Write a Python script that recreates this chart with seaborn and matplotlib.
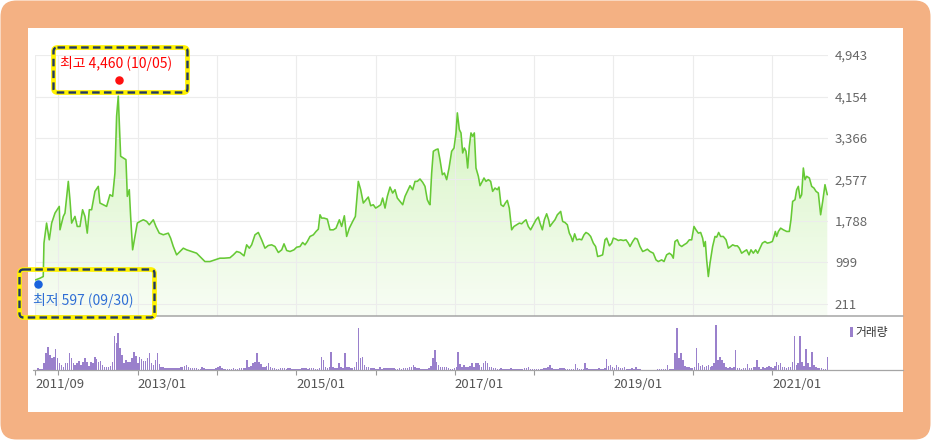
import numpy as np
import pandas as pd
import matplotlib
matplotlib.use('Agg')
import matplotlib.pyplot as plt
import matplotlib.dates as mdates
from matplotlib.patches import FancyBboxPatch, Rectangle, PathPatch
from matplotlib.lines import Line2D
from matplotlib.colors import LinearSegmentedColormap
from matplotlib.transforms import Affine2D
import seaborn as sns

# closing price, time given as decimal year
price_years = [
    2011.710, 2011.766, 2011.808, 2011.817, 2011.850, 2011.884, 2011.914, 2011.956, 2012.010, 2012.019,
    2012.061, 2012.082, 2012.124, 2012.145, 2012.166, 2012.208, 2012.237, 2012.271, 2012.304, 2012.334,
    2012.363, 2012.389, 2012.418, 2012.460, 2012.502, 2012.523, 2012.565, 2012.607, 2012.649, 2012.683,
    2012.712, 2012.733, 2012.754, 2012.784, 2012.817, 2012.851, 2012.868, 2012.893, 2012.910, 2012.935,
    2012.964, 2012.994, 2013.028, 2013.070, 2013.112, 2013.145, 2013.196, 2013.229, 2013.271, 2013.322,
    2013.385, 2013.414, 2013.448, 2013.490, 2013.532, 2013.574, 2013.616, 2013.679, 2013.742, 2013.784,
    2013.847, 2013.910, 2013.973, 2014.036, 2014.087,
    2014.163, 2014.205, 2014.247, 2014.289, 2014.340, 2014.373, 2014.407, 2014.436, 2014.478, 2014.520,
    2014.562, 2014.604, 2014.646, 2014.688, 2014.730, 2014.773, 2014.815, 2014.844, 2014.878, 2014.920,
    2014.970, 2015.004, 2015.046, 2015.079, 2015.109, 2015.138, 2015.172, 2015.214, 2015.248, 2015.277,
    2015.298, 2015.319, 2015.348, 2015.390, 2015.424, 2015.466, 2015.500, 2015.542, 2015.571, 2015.605,
    2015.634, 2015.668, 2015.710, 2015.744, 2015.781, 2015.811, 2015.844, 2015.878, 2015.907, 2015.937,
    2015.970, 2016.000, 2016.034, 2016.063, 2016.088, 2016.118, 2016.147, 2016.181, 2016.214, 2016.244,
    2016.273, 2016.307, 2016.341, 2016.370, 2016.399, 2016.433, 2016.467, 2016.496, 2016.525, 2016.559,
    2016.593, 2016.622, 2016.651, 2016.677,
    2016.685, 2016.706, 2016.727, 2016.761, 2016.786, 2016.811, 2016.841, 2016.866, 2016.895, 2016.925,
    2016.958, 2016.988, 2017.013, 2017.030, 2017.055, 2017.076, 2017.097, 2017.118, 2017.139, 2017.160,
    2017.181, 2017.202, 2017.223, 2017.244, 2017.265, 2017.295, 2017.316, 2017.345, 2017.366, 2017.391,
    2017.421, 2017.450, 2017.475, 2017.505, 2017.534, 2017.555, 2017.580, 2017.610, 2017.635, 2017.660,
    2017.685, 2017.715, 2017.744, 2017.778, 2017.812, 2017.841, 2017.870, 2017.896, 2017.925, 2017.954,
    2017.988, 2018.022, 2018.051, 2018.072, 2018.102, 2018.127, 2018.156, 2018.181, 2018.198, 2018.228,
    2018.261, 2018.291, 2018.333, 2018.358, 2018.387, 2018.417, 2018.442, 2018.463, 2018.484, 2018.509,
    2018.535, 2018.568, 2018.598, 2018.627, 2018.652, 2018.682, 2018.711, 2018.745, 2018.774, 2018.799,
    2018.829, 2018.862, 2018.892, 2018.913, 2018.947, 2018.976, 2018.997, 2019.031, 2019.060, 2019.089,
    2019.123, 2019.157, 2019.186,
    2019.207, 2019.241, 2019.270, 2019.299, 2019.333, 2019.367, 2019.396, 2019.426, 2019.459, 2019.501,
    2019.535, 2019.564, 2019.606, 2019.636, 2019.669, 2019.703, 2019.732, 2019.753, 2019.774, 2019.804,
    2019.829, 2019.859, 2019.888, 2019.922, 2019.955, 2019.985, 2020.014, 2020.039, 2020.069, 2020.098,
    2020.123, 2020.140, 2020.157, 2020.174, 2020.195, 2020.216, 2020.249, 2020.279, 2020.300, 2020.325,
    2020.350, 2020.384, 2020.418, 2020.447, 2020.476, 2020.502, 2020.531, 2020.561, 2020.586, 2020.615,
    2020.645, 2020.678, 2020.708, 2020.733, 2020.762, 2020.792, 2020.817, 2020.846, 2020.876, 2020.909,
    2020.939, 2020.972, 2021.002, 2021.023, 2021.040, 2021.057, 2021.078, 2021.107, 2021.141, 2021.183,
    2021.216, 2021.237, 2021.258, 2021.288, 2021.309, 2021.330, 2021.351, 2021.372, 2021.393, 2021.414,
    2021.435, 2021.469, 2021.498, 2021.527, 2021.553, 2021.582, 2021.611, 2021.637, 2021.666, 2021.695,
]
price_values = [
    668, 700, 732, 1367, 1748, 1430, 1748, 1938, 2065, 1621,
    1875, 1938, 2541, 2192, 1748, 1875, 1684, 1684, 2002, 1875,
    1557, 2002, 2002, 2351, 2446, 2129, 2097, 2065, 2288, 2256,
    2700, 3780, 4161, 3018, 2986, 2954, 2256, 2383, 1875, 1240,
    1494, 1748, 1780, 1811, 1780, 1716, 1811, 1684, 1557, 1526,
    1557, 1462, 1303, 1144, 1208, 1271, 1240, 1208, 1176, 1113,
    1017, 1017, 1049, 1081, 1081,
    1090, 1144, 1208, 1189, 1125, 1335, 1271, 1335, 1525, 1570,
    1430, 1271, 1322, 1335, 1303, 1189, 1240, 1354, 1227, 1208,
    1240, 1290, 1303, 1379, 1335, 1398, 1494, 1525, 1589, 1633,
    1906, 1843, 1843, 1824, 1620, 1620, 1652, 1811, 1684, 1887,
    1494, 1652, 1779, 1875, 2541, 2383, 2129, 2192, 2243, 2078,
    2097, 2033, 2065, 2097, 2224, 2033, 2256, 2433, 2319, 2383,
    2224, 2160, 2097, 2256, 2351, 2459, 2383, 2541, 2541, 2586,
    2522, 2446, 2192, 2110,
    2097, 2700, 3113, 3145, 3157, 2954, 2668, 2700, 2573, 2795,
    3113, 3176, 3462, 3843, 3526, 3462, 3081, 3176, 3113, 2795,
    3208, 3462, 3399, 3462, 2795, 2637, 2459, 2541, 2605, 2541,
    2573, 2541, 2351, 2414, 2383, 2433, 2097, 2065, 2129, 2179,
    2033, 1620, 1684, 1716, 1748, 1735, 1779, 1811, 1684, 1620,
    1716, 1811, 1862, 1748, 1620, 1811, 1925, 1811, 1684, 1748,
    1811, 1906, 1970, 1779, 1760, 1716, 1557, 1494, 1398, 1544,
    1430, 1443, 1430, 1525, 1570, 1544, 1494, 1367, 1303, 1113,
    1125, 1144, 1430, 1462, 1316, 1367, 1462, 1443, 1417, 1430,
    1417, 1430, 1367,
    1303, 1398, 1462, 1443, 1303, 1208, 1227, 1252, 1208, 1176,
    1049, 1017, 1049, 1017, 1144, 1176, 1144, 1081, 1398, 1430,
    1335, 1303, 1335, 1367, 1430, 1430, 1684, 1620, 1557, 1570,
    1462, 1303, 1398, 1049, 732, 986, 1303, 1494, 1481, 1570,
    1494, 1494, 1430, 1271, 1303, 1335, 1316, 1316, 1271, 1176,
    1208, 1240, 1144, 1240, 1176, 1240, 1176, 1271, 1367, 1398,
    1367, 1379, 1398, 1494, 1589, 1494, 1589, 1652, 1620, 1589,
    1589, 1811, 2160, 2192, 2383, 2446, 2224, 2287, 2795, 2573,
    2637, 2605, 2446, 2414, 2351, 2319, 1906, 2160, 2478, 2287,
]

# trading volume (relative units), one value every 9 days
volume_start = '2011-09-30'
volume_values = [
    5, 4, 4, 20, 50, 70, 45, 35, 40, 62, 35, 20, 15, 10, 20, 22, 50, 35, 20, 15,
    20, 28, 15, 25, 35, 25, 12, 25, 20, 40, 32, 25, 28, 15, 10, 10, 8, 12, 25, 100,
    80, 110, 65, 45, 22, 30, 25, 25, 35, 55, 42, 20, 40, 32, 28, 28, 35, 50, 20, 15,
    30, 50, 18, 10, 8, 6, 6, 5, 6, 5, 5, 6, 6, 8, 8, 12, 14, 8, 6, 5,
    5, 5, 4, 4, 10, 5, 4, 4, 4, 4, 4, 5, 8, 12, 5, 4, 4, 4, 4, 4,
    5, 4, 4, 5, 5, 5, 6, 30, 8, 12, 20, 25, 50, 25, 18, 10, 8, 12, 20, 10,
    6, 5, 4, 4, 6, 5, 5, 4, 5, 5, 4, 4, 4, 4, 3,
    5, 5, 5, 4, 6, 5, 5, 4, 4, 5, 38, 30, 8, 6, 8, 55, 10, 6, 6, 20,
    8, 6, 50, 10, 8, 6, 6, 8, 25, 125, 35, 38, 15, 10, 8, 6, 5, 5, 4, 4,
    10, 4, 5, 5, 5, 6, 5, 5, 4, 4, 5, 4, 5, 6, 6, 8, 10, 15, 8, 6,
    5, 4, 4, 4, 4, 5, 12, 35, 60, 25, 15, 10, 8, 10, 8, 6, 4, 4, 5, 8,
    55, 18, 10, 15, 8, 10, 12, 22, 10, 20, 22, 15, 10, 20, 28, 22, 10, 8, 5, 5,
    4, 4, 5, 4, 4, 4, 4, 5, 4, 4, 4, 4, 4, 4, 5, 6, 8, 4, 3, 3,
    4, 4, 4, 4, 5, 5, 8, 15, 5, 4, 4, 4, 5, 5, 5, 4, 4, 4,
    4, 4, 18, 5, 3, 4, 4, 22, 5, 3, 3, 3, 3, 4, 5, 4, 4, 5, 32, 12,
    15, 8, 6, 15, 8, 6, 5, 8, 4, 4, 4, 5, 4, 8, 3, 2, 1, 1, 1, 1,
    1, 1, 1, 1, 2, 4, 2, 2, 2, 15, 2, 3, 3, 50, 125, 35, 50, 30, 12, 8,
    10, 6, 6, 8, 65, 20, 12, 15, 10, 12, 15, 10, 12, 20, 135, 30, 40, 30, 20, 10,
    6, 8, 6, 8, 60, 5, 5, 4, 5, 5, 18, 5, 5, 8, 10, 30, 8, 4, 8, 6,
    8, 12, 8, 5, 12, 25, 15, 20, 10, 8, 6, 8, 10, 25, 100, 15, 20, 100, 25, 12,
    62, 20, 10, 55, 15, 8, 5, 5, 5, 4, 4, 40, 3,
]

y_ticks = [211, 999, 1788, 2577, 3366, 4154, 4943]
tick_dates = ['2011-09-17', '2012-01-01', '2013-01-01', '2014-01-01', '2015-01-01', '2016-01-01',
              '2017-01-01', '2018-01-01', '2019-01-01', '2020-01-01', '2021-01-01']
tick_labels = ['2011/09', '', '2013/01', '', '2015/01', '', '2017/01', '', '2019/01', '', '2021/01']

high_date, high_value, high_label = '2012-10-05', 4460, '최고 4,460 (10/05)'
low_date, low_value, low_label = '2011-09-30', 597, '최저 597 (09/30)'
volume_label = '거래량'


def to_date(years):
    years = np.asarray(years, dtype=float)
    return pd.Timestamp('2013-01-01') + pd.to_timedelta((years - 2013) * 365.25, unit='D')


sns.set_theme(style='white')
plt.rcParams['font.family'] = ['Noto Sans CJK KR', 'DejaVu Sans']

W, H = 931, 440
fig = plt.figure(figsize=(W / 100, H / 100), dpi=100)
fig.patch.set_facecolor('white')
pix = Affine2D().scale(1, -1).translate(0, H)   # pixel coords, y downward

# frame
fig.add_artist(FancyBboxPatch((0.5, 0.5), W - 1, H - 1, boxstyle='round,pad=0,rounding_size=16',
                              fc='#f4b183', ec='none', transform=pix, zorder=-3))
fig.add_artist(Rectangle((28, 28), 875, 384, fc='white', ec='none', transform=pix, zorder=-2))

price_dates = to_date(price_years)
xlim = to_date([2011.704, 2021.704])
ticks = pd.to_datetime(tick_dates)

# ---- price panel
ax = fig.add_axes([35 / W, 1 - 316 / H, 793 / W, 261 / H])
ax.set_facecolor('none')
ymin, ymax = -18, 4943

poly = ax.fill_between(price_dates, price_values, ymin, color='none', lw=0)
clip = PathPatch(poly.get_paths()[0], transform=ax.transData, fc='none', ec='none')
ax.add_patch(clip)
cmap = LinearSegmentedColormap.from_list('g', ['#f8fdf5', '#e4f8d7', '#c4eea6'])
x0, x1 = mdates.date2num(xlim)
im = ax.imshow(np.linspace(0, 1, 256).reshape(-1, 1), extent=[x0, x1, ymin, ymax], origin='lower',
               aspect='auto', cmap=cmap, zorder=1)
im.set_clip_path(clip)

sns.lineplot(x=price_dates, y=price_values, ax=ax, color='#66c935', linewidth=1.15, zorder=3)

ax.scatter(pd.to_datetime([high_date]), [high_value], s=26, color='#ff1010', zorder=5, clip_on=False)
ax.scatter(pd.to_datetime([low_date]), [low_value], s=26, color='#1a62dd', zorder=5, clip_on=False)

ax.set_xlim(xlim)
ax.set_ylim(ymin, ymax)
ax.set_xticks(ticks)
ax.set_xticklabels([])
ax.set_yticks(y_ticks)
ax.set_yticklabels([f'{v:,}' for v in y_ticks])
ax.yaxis.tick_right()
ax.tick_params(axis='both', length=0)
ax.tick_params(axis='y', pad=5, labelsize=9.5, labelcolor='#666666')
ax.grid(True, color='#ececec', linewidth=0.8)
ax.set_axisbelow('line')
for s in ax.spines.values():
    s.set_visible(False)
ax.set_xlabel('')
ax.set_ylabel('')

# ---- volume panel
axv = fig.add_axes([35 / W, 1 - 370 / H, 793 / W, 48 / H])
axv.set_facecolor('none')
vol_dates = pd.date_range(volume_start, periods=len(volume_values), freq='9D')
axv.bar(vol_dates, volume_values, width=7, color='#9a80cc', linewidth=0)
axv.set_xlim(xlim)
axv.set_ylim(0, 143)
axv.set_yticks([])
axv.set_xticks(ticks)
axv.set_xticklabels(tick_labels, ha='left')
axv.tick_params(axis='x', direction='out', length=3.6, width=0.8, color='#999999',
                labelsize=9.5, labelcolor='#555555', pad=2, bottom=True)
for s in axv.spines.values():
    s.set_visible(False)

fig.add_artist(Line2D([28, 903], [316, 316], color='#a5a5a5', lw=1.1, transform=pix, zorder=4))
fig.add_artist(Line2D([33, 903], [370, 370], color='#a5a5a5', lw=0.9, transform=pix, zorder=4))

# volume legend
fig.add_artist(Rectangle((850, 327), 3, 10, fc='#9a80cc', ec='none', transform=pix, zorder=4))
fig.text(855, 332, volume_label, transform=pix, fontsize=8.5, color='#333333', va='center', ha='left')


# ---- high / low call-outs
def callout(x, y, w, h):
    for ec, lw, ls in [('#fff200', 3.4, '-'), ('#1f3864', 1.7, (0, (3.2, 1.8)))]:
        fig.add_artist(FancyBboxPatch((x, y), w, h, boxstyle='round,pad=0,rounding_size=4',
                                      fc='none', ec=ec, lw=lw, ls=ls, transform=pix, zorder=6))


callout(53.5, 47.5, 134, 45)
callout(19.5, 269.5, 135, 48)
fig.text(60, 63, high_label, transform=pix, fontsize=10, color='#ff0000', va='center', ha='left', zorder=7)
fig.text(33, 300, low_label, transform=pix, fontsize=10, color='#2f6fd5', va='center', ha='left', zorder=7)

fig.savefig('out.png', dpi=100)
